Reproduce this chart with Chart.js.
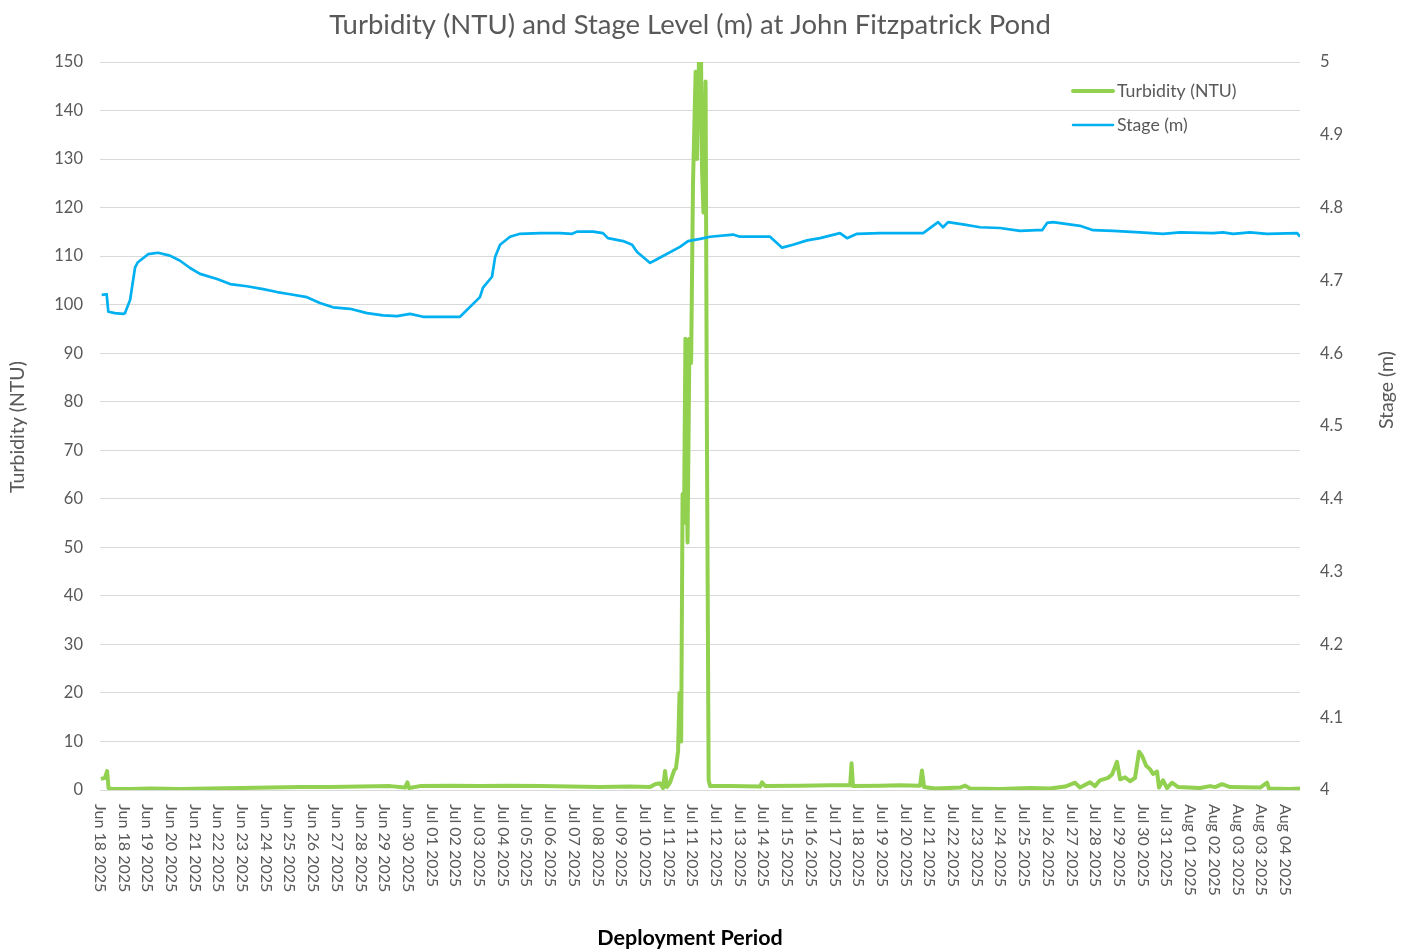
<!DOCTYPE html>
<html>
<head>
<meta charset="utf-8">
<script src="https://cdn.jsdelivr.net/npm/chart.js@4.4.1/dist/chart.umd.min.js"></script>
<style>
  html, body { margin: 0; padding: 0; background: #ffffff; }
  #wrap { width: 1411px; height: 952px; }
</style>
</head>
<body>
<div id="wrap"><canvas id="chart" width="1411" height="952"></canvas></div>
<script>
// Date labels printed under the time axis, one per tick position
const tickLabels = [
  'Jun 18 2025','Jun 18 2025','Jun 19 2025','Jun 20 2025','Jun 21 2025','Jun 22 2025',
  'Jun 23 2025','Jun 24 2025','Jun 25 2025','Jun 26 2025','Jun 27 2025','Jun 28 2025',
  'Jun 29 2025','Jun 30 2025','Jul 01 2025','Jul 02 2025','Jul 03 2025','Jul 04 2025',
  'Jul 05 2025','Jul 06 2025','Jul 07 2025','Jul 08 2025','Jul 09 2025','Jul 10 2025',
  'Jul 11 2025','Jul 11 2025','Jul 12 2025','Jul 13 2025','Jul 14 2025','Jul 15 2025',
  'Jul 16 2025','Jul 17 2025','Jul 18 2025','Jul 19 2025','Jul 20 2025','Jul 21 2025',
  'Jul 22 2025','Jul 23 2025','Jul 24 2025','Jul 25 2025','Jul 26 2025','Jul 27 2025',
  'Jul 28 2025','Jul 29 2025','Jul 30 2025','Jul 31 2025','Aug 01 2025','Aug 02 2025',
  'Aug 03 2025','Aug 03 2025','Aug 04 2025'
];

// Turbidity record: position along the deployment (in tick units) and NTU
const turbPos = [
  0.04,0.21,0.30,0.36,0.51,1.27,2.11,3.38,4.64,5.91,7.17,8.44,9.70,10.97,12.24,12.87,12.97,13.04,
  13.50,14.77,16.03,17.30,18.57,19.83,21.10,22.36,23.21,23.42,23.63,23.76,23.84,23.92,24.05,24.22,
  24.30,24.39,24.45,24.52,24.58,24.64,24.70,24.79,24.87,24.94,25.02,25.13,25.19,25.27,25.36,25.40,
  25.46,25.55,25.61,25.68,25.74,26.58,27.85,27.93,28.06,29.54,30.80,31.65,31.71,31.77,32.91,33.76,
  34.60,34.68,34.77,35.23,36.29,36.50,36.71,37.97,39.24,40.08,40.72,41.14,41.35,41.77,41.98,42.19,
  42.53,42.70,42.91,43.04,43.25,43.46,43.67,43.84,43.97,44.14,44.30,44.43,44.60,44.68,44.85,45.02,
  45.23,45.49,46.41,46.84,47.05,47.34,47.68,48.95,49.24,49.32,50.21,50.63
];
const turbNTU = [
  2.3,2.5,3.9,0.4,0.2,0.2,0.3,0.2,0.3,0.4,0.5,0.6,0.6,0.7,0.8,0.5,1.6,0.4,
  0.8,0.9,0.8,0.9,0.8,0.7,0.6,0.7,0.6,1.2,1.4,0.4,3.9,0.6,1.5,4.0,
  4.5,8.0,20,10,61,55,93,51,93,88,125,148,130,150,150,128,
  119,146,70,2.0,0.8,0.8,0.7,1.6,0.8,0.9,1.0,1.0,5.5,0.8,0.9,1.0,
  0.9,4.0,0.6,0.3,0.5,0.9,0.3,0.2,0.4,0.3,0.7,1.5,0.5,1.6,0.8,2.0,
  2.5,3.2,5.8,2.2,2.6,1.8,2.5,7.9,7.0,5.0,4.3,3.3,3.8,0.5,2.0,0.4,
  1.5,0.6,0.4,0.8,0.6,1.2,0.6,0.5,1.5,0.3,0.2,0.3
];

// Stage record: position along the deployment (in tick units) and metres
const stagePos = [
  0.07,0.28,0.35,0.63,0.97,1.05,1.27,1.48,1.60,2.03,2.45,2.95,3.38,3.80,4.22,4.94,5.49,6.20,
  6.88,7.47,8.02,8.73,9.28,9.83,10.55,11.27,11.94,12.53,13.08,13.63,14.47,15.19,16.03,16.16,
  16.54,16.67,16.88,17.30,17.72,18.57,19.41,19.92,20.13,20.80,21.22,21.43,22.07,22.45,22.66,
  23.21,23.50,24.47,24.81,25.32,25.74,26.71,27.00,28.27,28.78,29.24,29.83,30.38,31.22,31.52,
  31.94,32.91,34.73,35.36,35.57,35.78,36.41,37.13,37.97,38.82,39.54,39.75,39.96,40.21,41.35,
  41.90,42.74,43.88,44.85,45.57,46.96,47.38,47.81,48.52,49.24,50.51,50.63
];
const stageM = [
  4.680,4.681,4.657,4.655,4.654,4.655,4.673,4.718,4.725,4.736,4.738,4.734,4.727,4.717,4.709,4.702,4.695,4.692,
  4.688,4.684,4.681,4.677,4.669,4.663,4.661,4.655,4.652,4.651,4.654,4.650,4.650,4.650,4.677,4.690,
  4.705,4.732,4.749,4.760,4.764,4.765,4.765,4.764,4.767,4.767,4.765,4.758,4.754,4.749,4.739,
  4.724,4.729,4.746,4.754,4.757,4.760,4.763,4.760,4.760,4.745,4.749,4.755,4.758,4.765,4.758,
  4.764,4.765,4.765,4.780,4.773,4.780,4.777,4.773,4.772,4.768,4.769,4.769,4.779,4.780,4.775,
  4.769,4.768,4.766,4.764,4.766,4.765,4.766,4.764,4.766,4.764,4.765,4.760
];

const turbColor = '#92d050';
const stageColor = '#00b0f0';
const textGrey = '#595959';
const fontFamily = 'Lato, "Noto Sans", sans-serif';

const pairs = (xs, ys) => xs.map((x, i) => ({ x, y: ys[i] }));

// Title, axis captions, rotated date labels and the in-plot legend
const annotations = {
  id: 'annotations',
  afterDraw(chart) {
    const ctx = chart.ctx;
    const area = chart.chartArea;
    const xs = chart.scales.x;
    ctx.save();

    ctx.fillStyle = textGrey;
    ctx.font = '27.5px ' + fontFamily;
    ctx.textAlign = 'center';
    ctx.textBaseline = 'middle';
    ctx.fillText('Turbidity (NTU) and Stage Level (m) at John Fitzpatrick Pond', 690, 25);

    ctx.font = '16px ' + fontFamily;
    ctx.textAlign = 'left';
    tickLabels.forEach((label, i) => {
      ctx.save();
      ctx.translate(xs.getPixelForValue(i), area.bottom + 14);
      ctx.rotate(Math.PI / 2);
      ctx.fillText(label, 0, 0);
      ctx.restore();
    });

    ctx.font = '19.5px ' + fontFamily;
    ctx.textAlign = 'center';
    ctx.save();
    ctx.translate(18, 427);
    ctx.rotate(-Math.PI / 2);
    ctx.fillText('Turbidity (NTU)', 0, 0);
    ctx.restore();
    ctx.save();
    ctx.translate(1387, 390);
    ctx.rotate(-Math.PI / 2);
    ctx.fillText('Stage (m)', 0, 0);
    ctx.restore();

    ctx.fillStyle = '#000000';
    ctx.font = 'bold 21.5px ' + fontFamily;
    ctx.fillText('Deployment Period', 690, 938);

    const legend = [
      { text: 'Turbidity (NTU)', color: turbColor, width: 4, y: 91 },
      { text: 'Stage (m)', color: stageColor, width: 2.5, y: 125 }
    ];
    ctx.font = '17.7px ' + fontFamily;
    ctx.textAlign = 'left';
    legend.forEach(item => {
      ctx.strokeStyle = item.color;
      ctx.lineWidth = item.width;
      ctx.lineCap = 'round';
      ctx.beginPath();
      ctx.moveTo(1073, item.y);
      ctx.lineTo(1113, item.y);
      ctx.stroke();
      ctx.fillStyle = textGrey;
      ctx.fillText(item.text, 1117, item.y);
    });
    ctx.restore();
  }
};

new Chart(document.getElementById('chart'), {
  type: 'line',
  data: {
    datasets: [
      {
        label: 'Turbidity (NTU)',
        data: pairs(turbPos, turbNTU),
        yAxisID: 'y',
        borderColor: turbColor,
        borderWidth: 4,
        borderJoinStyle: 'round',
        pointRadius: 0,
        tension: 0,
        order: 1
      },
      {
        label: 'Stage (m)',
        data: pairs(stagePos, stageM),
        yAxisID: 'y1',
        borderColor: stageColor,
        borderWidth: 2.7,
        borderJoinStyle: 'round',
        pointRadius: 0,
        tension: 0,
        order: 0
      }
    ]
  },
  options: {
    responsive: false,
    animation: false,
    layout: { padding: { top: 62, left: 0, right: 0, bottom: 0 } },
    plugins: {
      legend: { display: false },
      title: { display: false },
      tooltip: { enabled: false }
    },
    scales: {
      x: {
        type: 'linear',
        min: 0,
        max: 50.63,
        grid: { display: false },
        border: { display: false },
        ticks: { display: false },
        afterFit: s => { s.height = 162; }
      },
      y: {
        position: 'left',
        min: 0,
        max: 150,
        grid: { color: '#d9d9d9', lineWidth: 1, drawTicks: false },
        border: { display: false },
        ticks: { stepSize: 10, color: textGrey, padding: 17, font: { family: fontFamily, size: 16.5 } },
        afterFit: s => { s.width = 100; }
      },
      y1: {
        position: 'right',
        min: 4,
        max: 5,
        grid: { display: false, drawTicks: false },
        border: { display: false },
        ticks: {
          stepSize: 0.1,
          color: textGrey,
          padding: 20,
          font: { family: fontFamily, size: 16.5 },
          callback: v => String(Number(v.toFixed(1)))
        },
        afterFit: s => { s.width = 111; }
      }
    }
  },
  plugins: [annotations]
});
</script>
</body>
</html>
